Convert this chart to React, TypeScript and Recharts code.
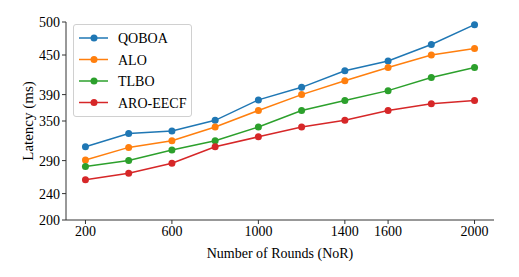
import React from 'react';
import { LineChart, Line, XAxis, YAxis, Legend } from 'recharts';

const rounds = [200, 400, 600, 800, 1000, 1200, 1400, 1600, 1800, 2000];
const qoboa = [311, 331, 335, 351, 382, 401, 426, 441, 466, 496];
const alo = [291, 310, 320, 341, 366, 390, 411, 431, 450, 460];
const tlbo = [281, 290, 306, 320, 341, 366, 381, 396, 416, 431];
const aroEecf = [261, 271, 286, 311, 326, 341, 351, 366, 376, 381];

const xTicks = [200, 600, 1000, 1400, 1600, 2000];
const yTicks = [200, 240, 290, 350, 390, 450, 500];

const seriesNames = ['QOBOA', 'ALO', 'TLBO', 'ARO-EECF'];
const seriesKeys = ['qoboa', 'alo', 'tlbo', 'aro'];
const colors = ['#1f77b4', '#ff7f0e', '#2ca02c', '#d62728'];

const data = rounds.map((r, i) => ({
  round: r,
  qoboa: qoboa[i],
  alo: alo[i],
  tlbo: tlbo[i],
  aro: aroEecf[i],
}));

const FONT = '"Liberation Serif", "Times New Roman", serif';

const LegendBox = () => (
  <div
    style={{
      width: 119,
      height: 93,
      boxSizing: 'border-box',
      border: '1px solid #d0d0d0',
      borderRadius: 3,
      background: 'rgba(255,255,255,0.85)',
      fontFamily: FONT,
      fontSize: 14,
      color: '#000',
    }}
  >
    <svg width={117} height={91} style={{ display: 'block' }}>
      {seriesNames.map((n, i) => {
        const y = 13 + i * 21.5;
        return (
          <g key={n}>
            <line x1={5} x2={34} y1={y} y2={y} stroke={colors[i]} strokeWidth={1.5} />
            <circle cx={20} cy={y} r={3.5} fill={colors[i]} />
            <text x={44} y={y + 5} fontFamily={FONT} fontSize={14} fill="#000">
              {n}
            </text>
          </g>
        );
      })}
    </svg>
  </div>
);

export default function App() {
  return (
    <div style={{ position: 'absolute', left: 0, top: 0, background: '#fff' }}>
      <LineChart
        width={519}
        height={277}
        data={data}
        margin={{ top: 22, right: 25, left: 0, bottom: 0 }}
        style={{ fontFamily: FONT }}
      >
        <XAxis
          dataKey="round"
          type="number"
          domain={[110, 2090]}
          ticks={xTicks}
          height={57}
          tickSize={4}
          tickMargin={2}
          stroke="#333"
          tick={{ fill: '#000', fontSize: 14, fontFamily: FONT }}
          label={{
            value: 'Number of Rounds (NoR)',
            position: 'insideBottom',
            offset: 19,
            fill: '#000',
            fontSize: 14,
            fontFamily: FONT,
          }}
        />
        <YAxis
          type="number"
          domain={[200, 500]}
          ticks={yTicks}
          width={66}
          tickSize={4}
          tickMargin={2}
          stroke="#333"
          tick={{ fill: '#000', fontSize: 14, fontFamily: FONT }}
          label={{
            value: 'Latency (ms)',
            angle: -90,
            position: 'insideLeft',
            offset: 28,
            style: { textAnchor: 'middle' },
            fill: '#000',
            fontSize: 15,
            fontFamily: FONT,
          }}
        />
        <Legend
          layout="vertical"
          align="center"
          verticalAlign="middle"
          wrapperStyle={{ left: 73, top: 24, width: 119, height: 93 }}
          content={() => <LegendBox />}
        />
        {seriesKeys.map((k, i) => (
          <Line
            key={k}
            dataKey={k}
            name={seriesNames[i]}
            stroke={colors[i]}
            strokeWidth={1.5}
            dot={{ r: 3.5, fill: colors[i], stroke: colors[i], strokeWidth: 0 }}
            isAnimationActive={false}
          />
        ))}
      </LineChart>
    </div>
  );
}
